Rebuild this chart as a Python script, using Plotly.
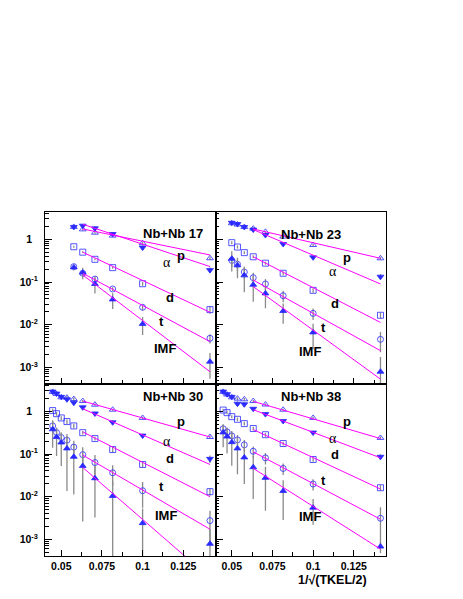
import plotly.graph_objects as go
from plotly.subplots import make_subplots

# abscissa 1/sqrt(TKEL/2), TKEL/2 = 500, 450, ..., 100, 50
x_vals = [0.0447, 0.0471, 0.0500, 0.0535, 0.0577, 0.0632, 0.0707, 0.0816, 0.1000, 0.1414]
fit_x = [0.0632, 0.1414]

systems = ["Nb+Nb 17", "Nb+Nb 23", "Nb+Nb 30", "Nb+Nb 38"]
first_point = [4, 2, 0, 0]

# yields per species
p_17 = [1.95, 1.71, 1.43, 1.22, 0.81, 0.36]
alpha_17 = [1.95, 2.09, 1.81, 1.33, 0.64, 0.19]
d_17 = [0.67, 0.50, 0.34, 0.217, 0.091, 0.0225]
t_17 = [0.229, 0.16, 0.117, 0.0686, 0.0255, 0.0048]
imf_17 = [0.22, 0.166, 0.09, 0.039, 0.0104, 0.00136]

p_23 = [2.38, 2.22, 1.94, 1.78, 1.5, 1.155, 0.736, 0.359]
alpha_23 = [2.44, 2.28, 1.94, 1.69, 1.26, 0.778, 0.378, 0.133]
d_23 = [0.835, 0.66, 0.487, 0.39, 0.276, 0.16, 0.0638, 0.0166]
t_23 = [0.32, 0.26, 0.171, 0.126, 0.09, 0.0478, 0.0184, 0.00453]
imf_23 = [0.35, 0.246, 0.143, 0.086, 0.054, 0.0209, 0.0066, 0.00079]

p_30 = [2.85, 2.55, 2.13, 2.09, 1.94, 1.74, 1.43, 1.09, 0.70, 0.25]
alpha_30 = [2.9, 2.6, 2.18, 1.91, 1.59, 1.24, 0.89, 0.553, 0.27, 0.077]
d_30 = [1.04, 0.88, 0.70, 0.575, 0.455, 0.316, 0.23, 0.127, 0.0569, 0.0131]
t_30 = [0.455, 0.318, 0.243, 0.21, 0.145, 0.0965, 0.063, 0.0363, 0.0138, 0.00275]
imf_30 = [0.38, 0.25, 0.186, 0.135, 0.086, 0.0525, 0.027, 0.0104, 0.0024, 0.000785]

p_38 = [2.85, 2.47, 2.13, 1.98, 1.91, 1.74, 1.44, 1.09, 0.70, 0.238]
alpha_38 = [2.9, 2.52, 2.18, 1.51, 1.46, 1.15, 0.86, 0.594, 0.318, 0.086]
d_38 = [1.07, 0.93, 0.75, 0.65, 0.515, 0.395, 0.283, 0.176, 0.0744, 0.0162]
t_38 = [0.39, 0.33, 0.265, 0.214, 0.164, 0.116, 0.081, 0.0459, 0.0198, 0.00312]
imf_38 = [0.32, 0.256, 0.189, 0.135, 0.083, 0.049, 0.0276, 0.0136, 0.00553, 0.00068]

# relative errors
p_err_17 = [0.08, 0.06, 0.06, 0.06, 0.06, 0.08]
alpha_err_17 = [0.08, 0.1, 0.1, 0.1, 0.12, 0.15]
d_err_17 = [0.05, 0.05, 0.05, 0.06, 0.1, 0.2]
t_err_17 = [0.1, 0.1, 0.15, 0.1, 0.15, 0.25]
imf_err_17 = [0.15, 0.3, 0.4, 0.4, 0.45, 0.6]

p_err_23 = [0.08, 0.08, 0.06, 0.06, 0.06, 0.06, 0.06, 0.08]
alpha_err_23 = [0.1, 0.12, 0.1, 0.1, 0.1, 0.1, 0.1, 0.15]
d_err_23 = [0.08, 0.08, 0.08, 0.08, 0.08, 0.1, 0.12, 0.15]
t_err_23 = [0.3, 0.3, 0.3, 0.3, 0.3, 0.3, 0.3, 0.5]
imf_err_23 = [0.5, 0.5, 0.6, 0.6, 0.55, 0.5, 0.6, 1.2]

p_err_30 = [0.1, 0.1, 0.1, 0.1, 0.08, 0.06, 0.06, 0.06, 0.06, 0.08]
alpha_err_30 = [0.1, 0.1, 0.1, 0.12, 0.12, 0.1, 0.1, 0.1, 0.1, 0.2]
d_err_30 = [0.1, 0.1, 0.1, 0.12, 0.12, 0.1, 0.1, 0.15, 0.15, 0.2]
t_err_30 = [0.3, 0.3, 0.3, 0.4, 0.4, 0.5, 0.5, 0.5, 0.6, 0.7]
imf_err_30 = [0.63, 0.64, 0.72, 0.9, 0.87, 0.95, 0.88, 1.2, 1.2, 1.2]

p_err_38 = [0.1, 0.1, 0.1, 0.08, 0.08, 0.06, 0.06, 0.06, 0.06, 0.08]
alpha_err_38 = [0.1, 0.1, 0.1, 0.12, 0.12, 0.1, 0.1, 0.1, 0.1, 0.15]
d_err_38 = [0.08, 0.08, 0.08, 0.1, 0.1, 0.1, 0.1, 0.1, 0.12, 0.15]
t_err_38 = [0.25, 0.25, 0.3, 0.3, 0.3, 0.3, 0.3, 0.3, 0.3, 0.8]
imf_err_38 = [0.55, 0.6, 0.72, 0.75, 0.76, 0.82, 0.83, 0.79, 0.6, 0.3]

# exponential fits: value at x = 0.0632 and at x = 0.1414
fit_p = [[1.75, 0.43], [1.75, 0.359], [1.74, 0.25], [1.71, 0.23]]
fit_alpha = [[2.25, 0.23], [1.69, 0.09], [1.15, 0.0569], [1.09, 0.0813]]
fit_d = [[0.50, 0.0195], [0.39, 0.0113], [0.33, 0.010], [0.373, 0.0151]]
fit_t = [[0.16, 0.004], [0.111, 0.00246], [0.094, 0.00173], [0.112, 0.00295]]
fit_imf = [[0.146, 0.00079], [0.078, 0.00053], [0.0484, 0.000125], [0.046, 0.00059]]

species = ["p", "alpha", "d", "t", "IMF"]
symbols = ["triangle-up-open", "triangle-down", "square-open", "circle-open", "triangle-up"]
values = [
    [p_17, alpha_17, d_17, t_17, imf_17],
    [p_23, alpha_23, d_23, t_23, imf_23],
    [p_30, alpha_30, d_30, t_30, imf_30],
    [p_38, alpha_38, d_38, t_38, imf_38],
]
errors = [
    [p_err_17, alpha_err_17, d_err_17, t_err_17, imf_err_17],
    [p_err_23, alpha_err_23, d_err_23, t_err_23, imf_err_23],
    [p_err_30, alpha_err_30, d_err_30, t_err_30, imf_err_30],
    [p_err_38, alpha_err_38, d_err_38, t_err_38, imf_err_38],
]
fits = [fit_p, fit_alpha, fit_d, fit_t, fit_imf]

BLUE = "#2a2aff"
MAGENTA = "#ff00ff"

fig = make_subplots(rows=2, cols=2, shared_xaxes=True, shared_yaxes=True,
                    horizontal_spacing=0, vertical_spacing=0)

for k in range(4):
    row, col = k // 2 + 1, k % 2 + 1
    xs = x_vals[first_point[k]:]
    for s in range(5):
        ys = values[k][s]
        errs = [v * e for v, e in zip(ys, errors[k][s])]
        fig.add_trace(go.Scatter(
            x=xs, y=ys, mode="markers",
            marker=dict(symbol=symbols[s], size=6, color=BLUE, line=dict(color=BLUE, width=0.8)),
            error_y=dict(type="data", array=errs, color="#8a8a8a", thickness=1.3, width=0),
            showlegend=False,
        ), row=row, col=col)
    for s in range(5):
        fig.add_trace(go.Scatter(
            x=fit_x, y=fits[s][k], mode="lines",
            line=dict(color=MAGENTA, width=1), showlegend=False,
        ), row=row, col=col)

tick_font = dict(family="Liberation Sans", size=10.5, color="black", weight="bold")
fig.update_xaxes(
    range=[0.04, 0.1448], tickvals=[0.05, 0.075, 0.1, 0.125],
    ticktext=["0.05", "0.075", "0.1", "0.125"], ticks="inside", ticklen=6,
    tickcolor="black", minor=dict(tickvals=[0.0625, 0.0875, 0.1125, 0.1375], ticks="inside",
                                  ticklen=4, tickcolor="black"),
    showline=True, linecolor="black", linewidth=1, mirror=True, showgrid=False,
    zeroline=False, tickfont=tick_font,
)
minor_y = [m * 10.0 ** e for e in range(-4, 1) for m in range(2, 10)]
fig.update_yaxes(
    type="log", range=[-3.39, 0.64], tickvals=[0.001, 0.01, 0.1, 1],
    ticktext=["10<sup>-3</sup>", "10<sup>-2</sup>", "10<sup>-1</sup>", "1  "],
    ticks="inside", ticklen=7, tickcolor="black", ticklabelstandoff=4,
    minor=dict(tickvals=minor_y, ticks="inside", ticklen=3.5, tickcolor="black"),
    showline=True, linecolor="black", linewidth=1, mirror=True, showgrid=False,
    zeroline=False, tickfont=tick_font,
)

label_font = dict(family="Liberation Sans", size=13, color="black", weight="bold")
greek_font = dict(family="Liberation Serif", size=14, color="black")
# panel label positions in paper coordinates: title, p, alpha, d, t, IMF
label_pos = [
    [(0.375, 0.964), (0.399, 0.902), (0.359, 0.880), (0.368, 0.778), (0.329, 0.708), (0.314, 0.602)],
    [(0.875, 0.962), (0.902, 0.894), (0.861, 0.856), (0.869, 0.761), (0.831, 0.691), (0.814, 0.594)],
    [(0.375, 0.465), (0.399, 0.390), (0.358, 0.334), (0.368, 0.255), (0.329, 0.174), (0.317, 0.090)],
    [(0.875, 0.465), (0.902, 0.390), (0.861, 0.342), (0.869, 0.267), (0.830, 0.192), (0.814, 0.088)],
]
label_text = ["p", "\u03b1", "d", "t", "IMF"]
for k in range(4):
    tx, ty = label_pos[k][0]
    fig.add_annotation(x=tx, y=ty, xref="paper", yref="paper", text=systems[k],
                       showarrow=False, font=label_font)
    for s in range(5):
        lx, ly = label_pos[k][s + 1]
        fig.add_annotation(x=lx, y=ly, xref="paper", yref="paper", text=label_text[s],
                           showarrow=False, font=greek_font if s == 1 else label_font)

fig.add_annotation(x=0.95, y=-0.07, xref="paper", yref="paper", xanchor="right",
                   yanchor="middle", text="1/\u221a(TKEL/2)", showarrow=False,
                   font=dict(family="Liberation Sans", size=12.5, color="black", weight="bold"))

# the page body keeps its default 8px margin, so the figure is 8px smaller
fig.update_layout(
    width=455, height=591,
    margin=dict(l=35, r=77, t=204, b=43),
    paper_bgcolor="white", plot_bgcolor="white",
    showlegend=False,
)

fig.write_html("out.html")
